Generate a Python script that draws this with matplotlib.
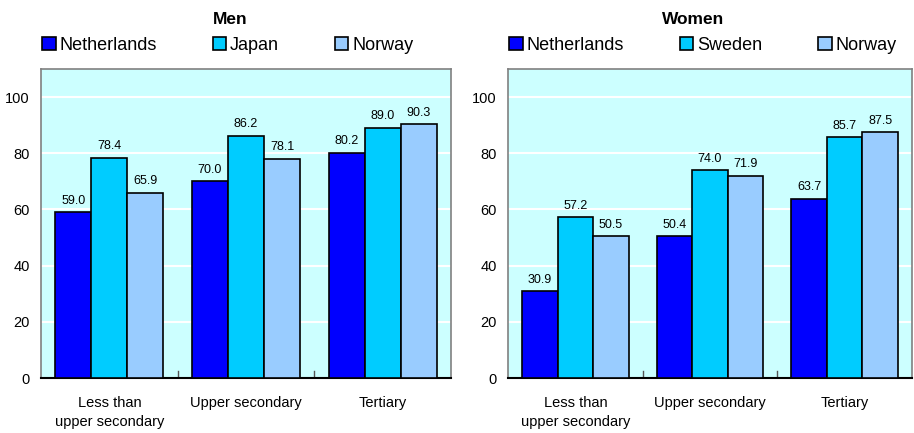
import numpy as np, matplotlib.pyplot as plt
from matplotlib.patches import Patch

plt.rcParams['font.family'] = ['Liberation Sans', 'DejaVu Sans']

categories = ['Less than\nupper secondary', 'Upper secondary', 'Tertiary']
men_names = ['Netherlands', 'Japan', 'Norway']
men_vals = [[59.0, 70.0, 80.2],
            [78.4, 86.2, 89.0],
            [65.9, 78.1, 90.3]]
women_names = ['Netherlands', 'Sweden', 'Norway']
women_vals = [[30.9, 50.4, 63.7],
              [57.2, 74.0, 85.7],
              [50.5, 71.9, 87.5]]
colors = ['#0000FF', '#00CCFF', '#99CCFF']

fig = plt.figure(figsize=(9.14, 4.33), dpi=100)
ax1 = fig.add_axes([0.0449, 0.127, 0.4486, 0.7136])
ax2 = fig.add_axes([0.5558, 0.127, 0.4420, 0.7136])

def panel(ax, names, vals, title, title_x):
    x = np.arange(len(categories))
    w = 0.264
    for i, (name, v) in enumerate(zip(names, vals)):
        pos = x + (i - 1) * w
        bars = ax.bar(pos, v, w, color=colors[i], edgecolor='black', linewidth=1.2,
                      label=name, zorder=3)
        for b, val in zip(bars, v):
            ax.text(b.get_x() + b.get_width() / 2, val + 2, '%.1f' % val,
                    ha='center', va='bottom', fontsize=9, zorder=4)
    ax.set_facecolor('#CCFFFF')
    ax.set_xlim(-0.5, 2.5)
    ax.set_ylim(0, 110)
    ax.set_yticks([0, 20, 40, 60, 80, 100])
    ax.yaxis.grid(True, color='white', linewidth=1.5, zorder=1)
    ax.tick_params(axis='y', length=0, labelsize=10.5, pad=8)
    ax.set_xticks(x)
    ax.set_xticklabels(categories, fontsize=10.5, linespacing=1.45)
    ax.tick_params(axis='x', length=0, pad=13)
    for xb in [0.5, 1.5]:
        ax.plot([xb, xb], [0, 2.5], color='#555555', linewidth=1, zorder=2)
    for s in ['top', 'right', 'left']:
        ax.spines[s].set_color('#808080')
        ax.spines[s].set_linewidth(1.2)
    ax.spines['bottom'].set_color('black')
    ax.spines['bottom'].set_linewidth(1.5)
    fig.text(title_x, 1 - 19 / 433, title, ha='center', va='center',
             fontsize=12.5, fontweight='bold')
    handles = [Patch(facecolor=c, edgecolor='black', linewidth=1.2) for c in colors]
    ax.legend(handles, names, ncol=3, loc='center left',
              bbox_to_anchor=(0.003, 1 + (69 - 45) / 309), frameon=False,
              fontsize=13, handlelength=0.75, handleheight=0.75,
              handletextpad=0.2, columnspacing=3.1, borderpad=0,
              borderaxespad=0)

panel(ax1, men_names, men_vals, 'Men', 230 / 914)
panel(ax2, women_names, women_vals, 'Women', 693 / 914)

fig.savefig('out.png', dpi=100)
